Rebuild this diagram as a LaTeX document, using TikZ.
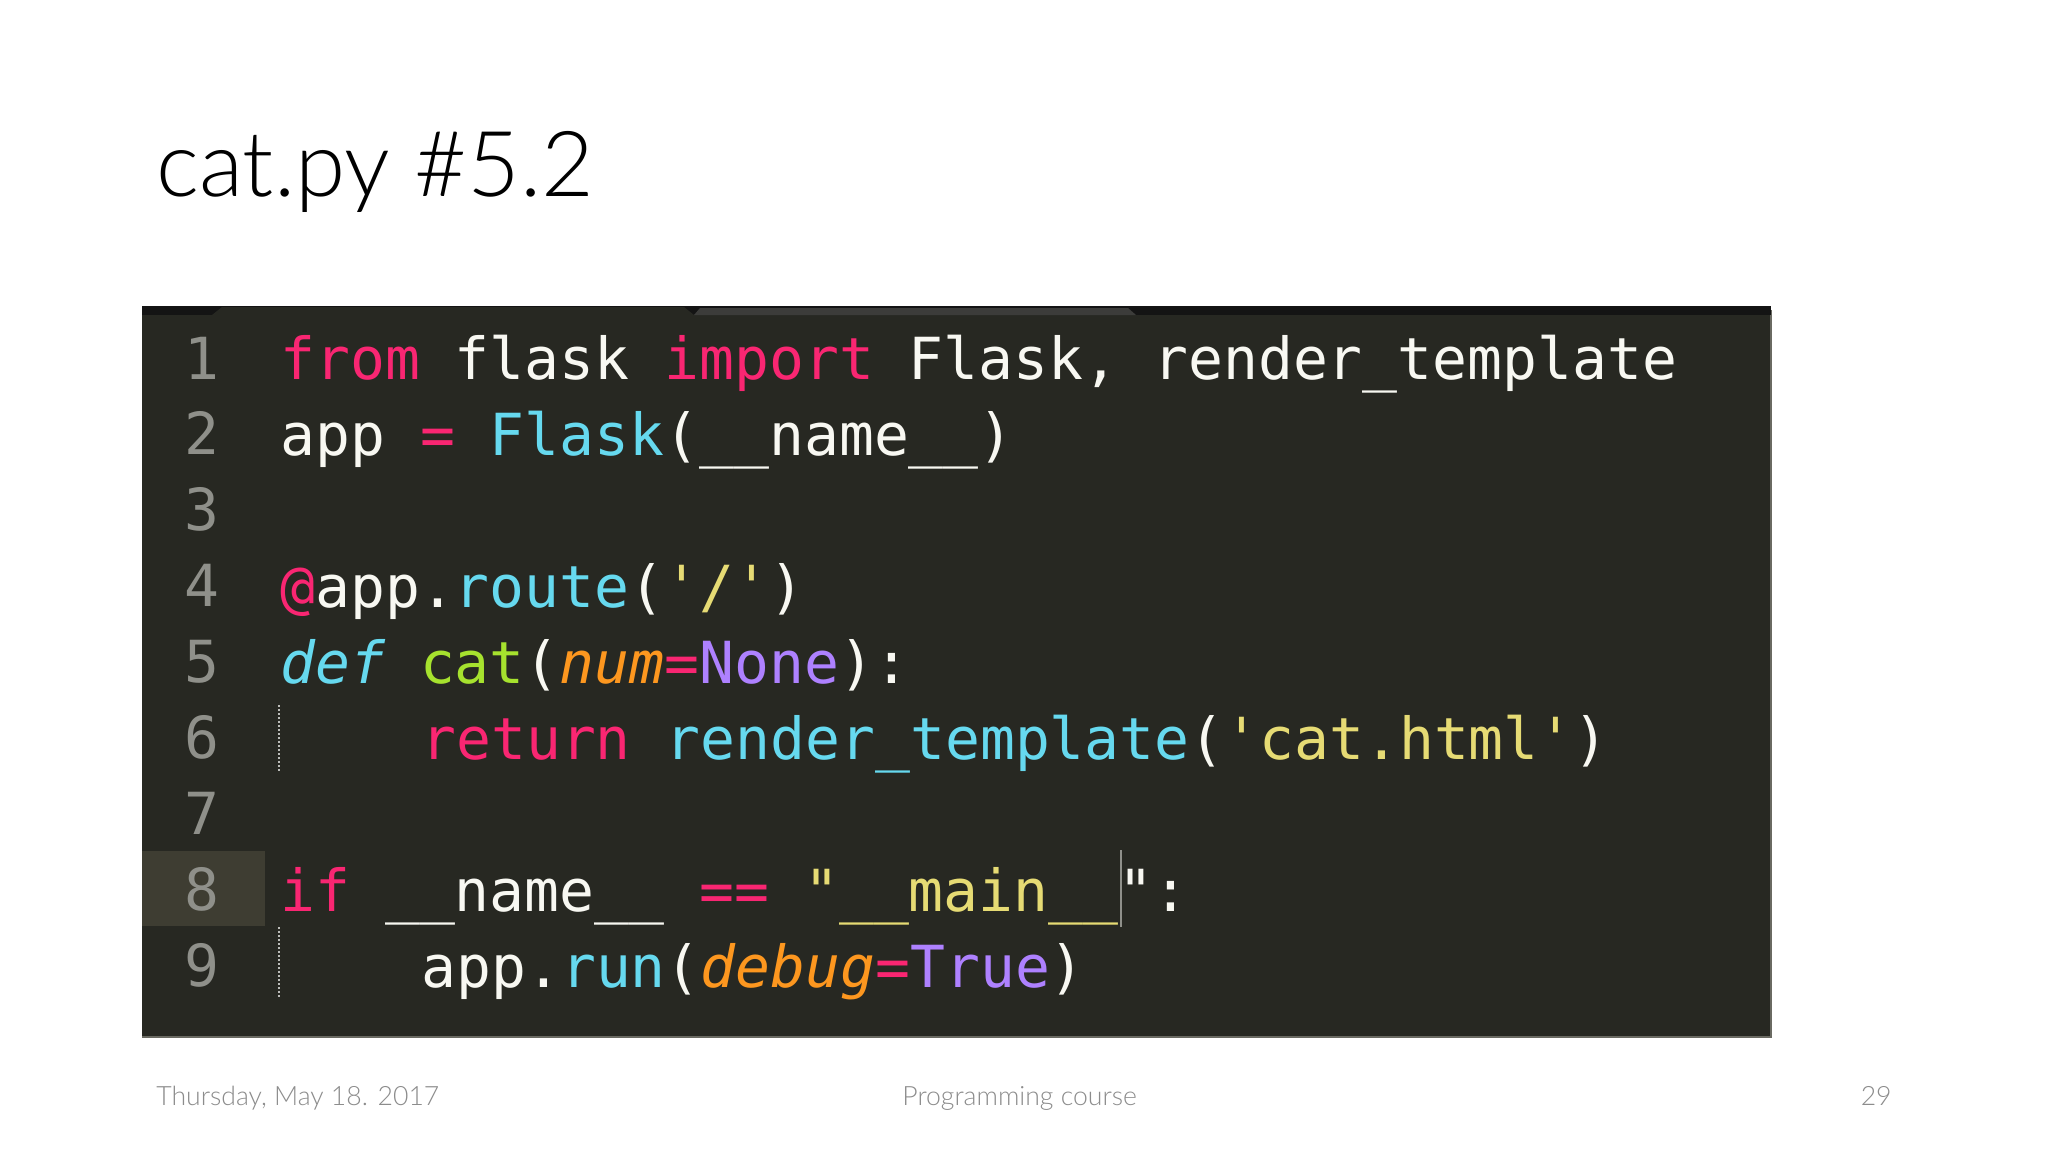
\documentclass[tikz,border=0pt]{standalone}
\usepackage{fontspec}
\IfFontExistsTF{Lato Light}{\setmainfont{Lato Light}}{\setmainfont{Lato}}
\newfontfamily\codefont{DejaVu Sans Mono}

\definecolor{mkbg}{HTML}{272822}
\definecolor{mkbar}{HTML}{141414}
\definecolor{mktab}{HTML}{3C3C3A}
\definecolor{mkline}{HTML}{3E3D32}
\definecolor{mkedge}{HTML}{6A6A62}
\definecolor{mkgray}{HTML}{8F908A}
\definecolor{mkwhite}{HTML}{F8F8F2}
\definecolor{mkpink}{HTML}{F92672}
\definecolor{mkcyan}{HTML}{66D9EF}
\definecolor{mkgreen}{HTML}{A6E22E}
\definecolor{mkorange}{HTML}{FD971F}
\definecolor{mkpurple}{HTML}{AE81FF}
\definecolor{mkyellow}{HTML}{E6DB74}
\definecolor{footgray}{HTML}{8C8C8C}

\newcommand{\kw}[1]{\textcolor{mkpink}{#1}}
\newcommand{\fn}[1]{\textcolor{mkcyan}{#1}}
\newcommand{\dfn}[1]{\textcolor{mkgreen}{#1}}
\newcommand{\prm}[1]{\textcolor{mkorange}{\itshape #1}}
\newcommand{\cst}[1]{\textcolor{mkpurple}{#1}}
\newcommand{\strg}[1]{\textcolor{mkyellow}{#1}}

\begin{document}
\begin{tikzpicture}[x=0.5pt,y=-0.5pt,
    code/.style={anchor=base west,inner sep=0pt,text=mkwhite,font=\codefont\fontsize{29}{34}\selectfont},
    lnum/.style={anchor=base east,inner sep=0pt,text=mkgray,font=\codefont\fontsize{29}{34}\selectfont},
    foot/.style={anchor=base west,inner sep=0pt,text=footgray,font=\fontsize{13.3}{16}\selectfont}]
    \useasboundingbox (0,0) rectangle (2048,1152);
    \fill[white] (0,0) rectangle (2048,1152);
    % title
    \node[anchor=base west,inner sep=0pt,font=\fontsize{45.5}{54}\selectfont] (title) at (156,196) {cat.py \#5.2};
    % editor
    \fill[mkbg] (142,306) rectangle (1771,1037);
    \draw[mkedge,line width=1pt] (1771,310) -- (1771,1037) -- (142,1037);
    \fill[mkbar] (142,306) rectangle (1771,315);
    \fill[mkbg] (212,315) -- (222,307) -- (684,307) -- (694,315) -- cycle;
    \fill[mktab] (694,315) -- (700,308) -- (1128,308) -- (1136,315) -- cycle;
    \fill[mkline] (142,851) rectangle (265,926);
    \draw[mkgray!60,densely dotted,line width=1pt] (279,705) -- (279,772);
    \draw[mkgray!60,densely dotted,line width=1pt] (279,927) -- (279,999);
    \draw[mkgray,line width=1pt] (1121,850) -- (1121,927);
    % line numbers
    \foreach \i in {1,...,9}
        \node[lnum] (n\i) at (220,{379+75.9*(\i-1)}) {\i};
    % code
    \node[code] (l1) at (280,379) {\kw{from} flask \kw{import} Flask, render\_template};
    \node[code] (l2) at (280,455) {app \kw{=} \fn{Flask}(\_\_name\_\_)};
    \node[code] (l4) at (280,607) {\kw{@}app.\fn{route}(\strg{\textquotesingle/\textquotesingle})};
    \node[code] (l5) at (280,683) {\fn{\itshape def} \dfn{cat}(\prm{num}\kw{=}\cst{None}):};
    \node[code] (l6) at (421,759) {\kw{return} \fn{render\_template}(\strg{\textquotesingle cat.html\textquotesingle})};
    \node[code] (l8) at (280,911) {\kw{if} \_\_name\_\_ \kw{==} \strg{\textquotedbl\_\_main\_\_}\textquotedbl:};
    \node[code] (l9) at (421,987) {app.\fn{run}(\prm{debug}\kw{=}\cst{True})};
    % footer
    \node[foot] (date) at (156,1105) {Thursday, May 18. 2017};
    \node[foot] (course) at (902,1105) {Programming course};
    \node[foot,anchor=base east] (page) at (1892,1105) {29};
\end{tikzpicture}
\end{document}
